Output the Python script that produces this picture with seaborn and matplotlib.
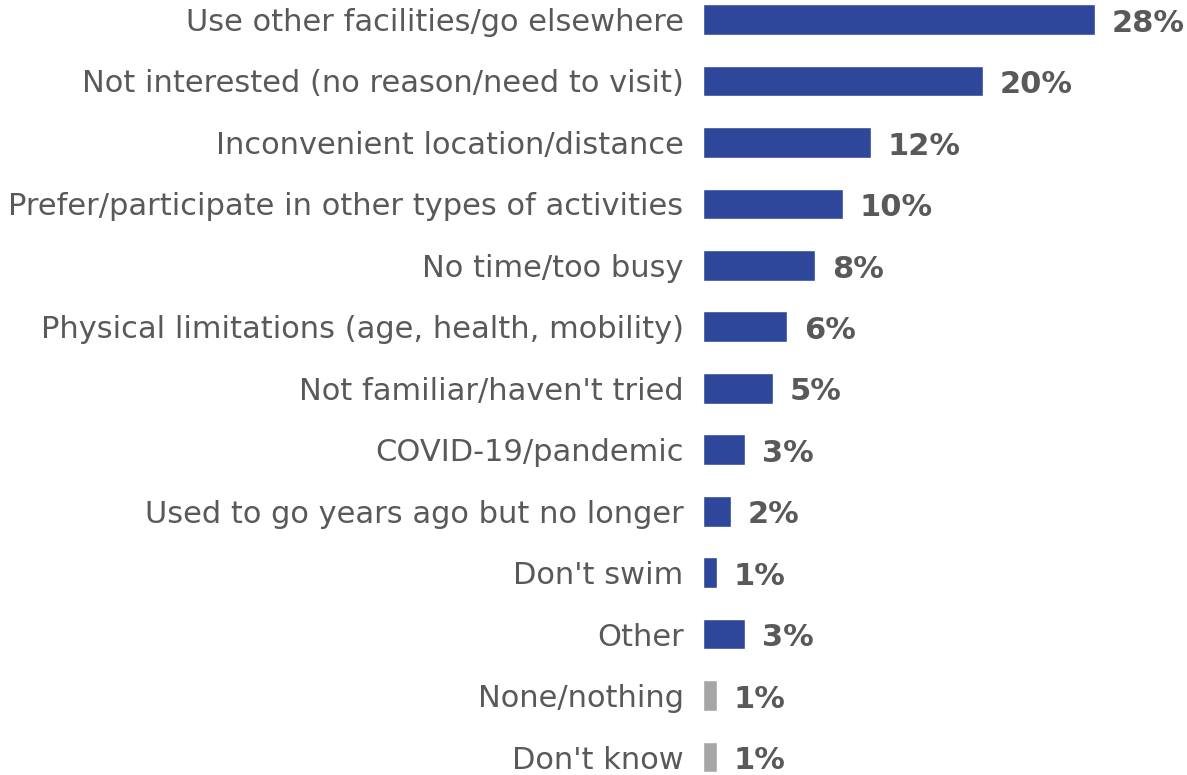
import pandas as pd
import matplotlib.pyplot as plt
import seaborn as sns

sns.set_style("white")
plt.rcParams["font.family"] = ["DejaVu Sans"]

# === Data ===
reasons = [
    "Use other facilities/go elsewhere",
    "Not interested (no reason/need to visit)",
    "Inconvenient location/distance",
    "Prefer/participate in other types of activities",
    "No time/too busy",
    "Physical limitations (age, health, mobility)",
    "Not familiar/haven't tried",
    "COVID-19/pandemic",
    "Used to go years ago but no longer",
    "Don't swim",
    "Other",
    "None/nothing",
    "Don't know",
]
pct = [28, 20, 12, 10, 8, 6, 5, 3, 2, 1, 3, 1, 1]
group = ["reason"] * 11 + ["none"] * 2

df = pd.DataFrame({"reason": reasons, "pct": pct, "group": group})

BLUE = "#2E479B"
GREY = "#A6A6A6"
TEXT = "#595959"

fig = plt.figure(figsize=(11.87, 7.75), dpi=100)
ax = fig.add_axes([703 / 1187, 0, 1 - 703 / 1187, 1])

sns.barplot(data=df, y="reason", x="pct", hue="group", orient="h",
            palette={"reason": BLUE, "none": GREY}, dodge=False,
            width=0.5, legend=False, ax=ax, saturation=1)

for i, v in enumerate(pct):
    ax.text(v + 1.2, i + 0.06, f"{v}%", va="center", ha="left",
            fontsize=22, fontweight="bold", color=TEXT)

ax.set_xlim(0, (1187 - 703) / 14)
ax.set_ylim(12 + 18 / 61.5, -19.5 / 61.5)
ax.set_xlabel("")
ax.set_ylabel("")
ax.set_xticks([])
ax.tick_params(axis="y", length=0, pad=14, labelsize=22, labelcolor=TEXT)
sns.despine(ax=ax, left=True, bottom=True)

fig.savefig("out.png", dpi=100)
